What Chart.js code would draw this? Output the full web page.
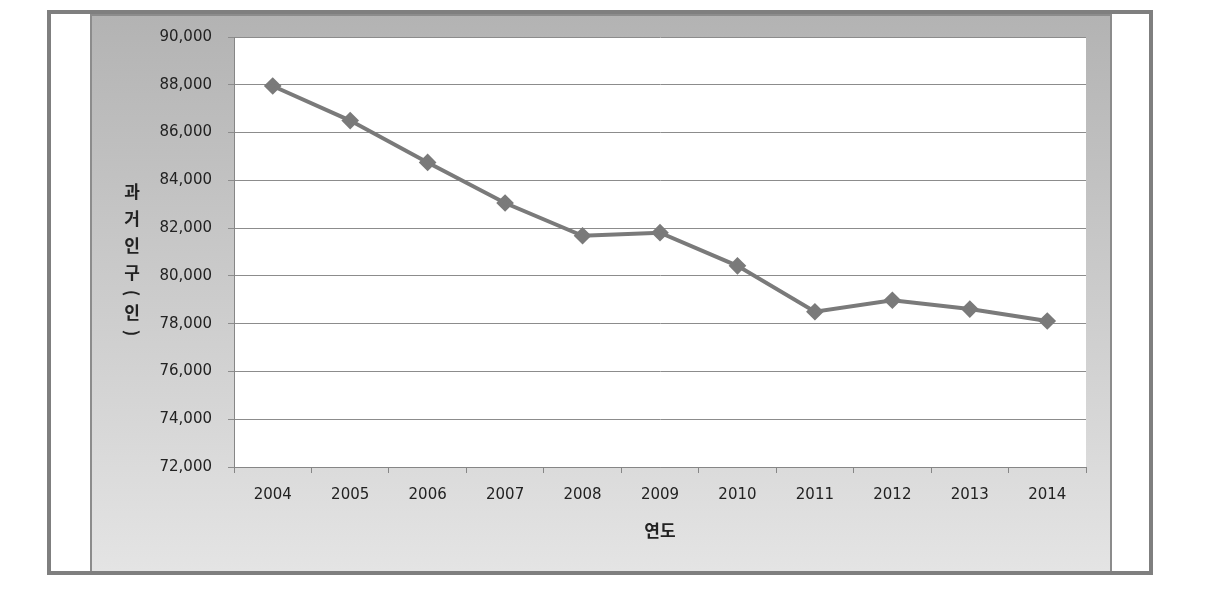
<!DOCTYPE html>
<html>
<head>
<meta charset="utf-8">
<script src="https://cdn.jsdelivr.net/npm/chart.js@4"></script>
<style>
body{margin:0;background:#fff;}
#frame{position:absolute;left:47px;top:10px;width:1098px;height:557px;border:4px solid #7f7f7f;background:#fff;}
#box{position:absolute;left:39px;top:0px;width:1018px;height:555px;
background:linear-gradient(#b3b3b3,#e4e4e4);border-left:2px solid #8c8c8c;border-top:2px solid #8c8c8c;border-right:2px solid #8c8c8c;}
#wrap{position:absolute;left:0;top:-4px;width:1018px;height:559px;}
</style>
</head>
<body>
<div id="frame"><div id="box"><div id="wrap"><canvas id="chart"></canvas></div></div></div>
<script>

// 연도별 과거 인구
const years = ["2004","2005","2006","2007","2008","2009","2010","2011","2012","2013","2014"]
const population = [87950,86500,84750,83050,81680,81810,80420,78500,78980,78610,78110]

const yMin = 72000
const yMax = 90000
const yStep = 2000

const yTitle = ["과","거","인","구","(","인",")"]
const xTitle = "연도"

const plotBg = {
id:"plotBg",
beforeDraw(c){
const a = c.chartArea
c.ctx.save()
c.ctx.fillStyle = "#fff"
c.ctx.fillRect(a.left,a.top,a.right-a.left,a.bottom-a.top)
c.ctx.restore()
}
}

// stacked vertical y title
const stackTitle = {
id:"stackTitle",
afterDraw(c){
const ctx = c.ctx
const a = c.chartArea
const steps = yTitle.map(ch => (ch=="("||ch==")") ? 13 : 27)
const total = steps.reduce((s,v)=>s+v,0)
let y = (a.top+a.bottom)/2 + 7 - total/2
const x = 40
ctx.save()
ctx.fillStyle = "#222"
ctx.font = "bold 17px 'Noto Sans CJK KR'"
ctx.textAlign = "center"
ctx.textBaseline = "middle"
yTitle.forEach((ch,i)=>{
const cy = y + steps[i]/2
if(ch=="("||ch==")"){
ctx.save()
ctx.translate(x,cy)
ctx.rotate(Math.PI/2)
ctx.fillText(ch,0,0)
ctx.restore()
}else{
ctx.fillText(ch,x,cy)
}
y += steps[i]
})
ctx.restore()
}
}

Chart.defaults.font.family = "'DejaVu Sans'"
Chart.defaults.color = "#222"

new Chart(document.getElementById("chart"),{

type:"line",

data:{
labels: years,
datasets:[{
data: population,
borderColor:"#7a7a7a",
backgroundColor:"#7a7a7a",
borderWidth:4,
pointStyle:"rectRot",
pointRadius:6,
pointHoverRadius:6,
tension:0,
fill:false
}]
},

options:{
responsive:true,
maintainAspectRatio:false,
animation:false,
layout:{padding:{top:17,right:24,left:0,bottom:0}},
plugins:{
legend:{display:false},
tooltip:{enabled:false}
},
scales:{
x:{
offset:true,
grid:{offset:true,drawOnChartArea:false,drawTicks:true,tickLength:6,color:"#868686"},
border:{color:"#868686"},
ticks:{font:{size:15},padding:13,color:"#222"},
title:{display:true,text:xTitle,font:{size:17,weight:"bold",family:"'Noto Sans CJK KR'"},color:"#222",padding:{top:12,bottom:30}},
afterFit(s){ s.height = 104 }
},
y:{
min:yMin,
max:yMax,
ticks:{
stepSize:yStep,
font:{size:15},
padding:16,
color:"#222",
callback:v => v.toLocaleString("en-US")
},
grid:{color:"#8c8c8c",tickLength:6,lineWidth:1},
border:{color:"#868686"},
afterFit(s){ s.width = 142 }
}
}
},

plugins:[plotBg,stackTitle]

})

</script>
</body>
</html>
